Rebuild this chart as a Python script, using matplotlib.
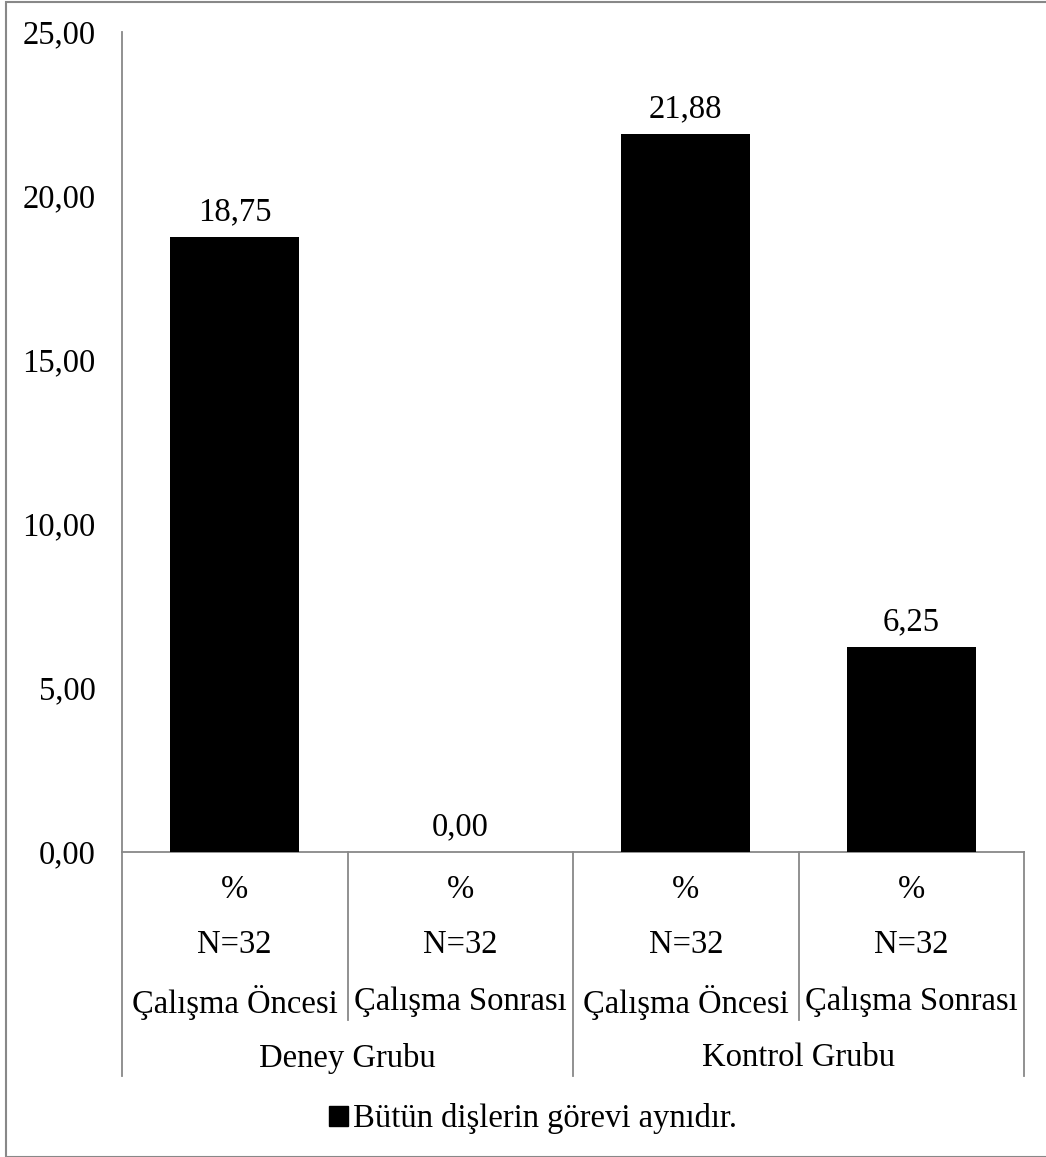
import matplotlib
matplotlib.use("Agg")
import matplotlib.pyplot as plt
from matplotlib.patches import Patch, Rectangle
from matplotlib.lines import Line2D
import matplotlib.transforms as mtransforms

# Data
phases = ["Çalışma Öncesi", "Çalışma Sonrası", "Çalışma Öncesi", "Çalışma Sonrası"]
unit_row = ["%", "%", "%", "%"]
n_row = ["N=32", "N=32", "N=32", "N=32"]
groups = ["Deney Grubu", "Kontrol Grubu"]
values = [18.75, 0.00, 21.88, 6.25]
series_name = "Bütün dişlerin görevi aynıdır."
yticks = [0, 5, 10, 15, 20, 25]

W, H = 1046, 1157
DPI = 100
FS = 23.5
GRAY = "#888888"

plt.rcParams["font.family"] = ["Liberation Serif", "DejaVu Serif"]

fig = plt.figure(figsize=(W / DPI, H / DPI), dpi=DPI)

def fx(px):
    return px / W

def fy(py):
    return 1 - py / H

ax = fig.add_axes([fx(122), fy(852), fx(1024) - fx(122), fy(32) - fy(852)])

x = list(range(len(values)))
ax.bar(x, values, width=0.57, color="black", zorder=3)
ax.set_xlim(-0.5, len(values) - 0.5)
ax.set_ylim(0, 25)

ax.set_yticks(yticks)
ax.set_yticklabels([f"{t:.2f}".replace(".", ",") for t in yticks], fontsize=FS)
ax.tick_params(axis="y", length=0, pad=19)
ax.set_xticks([])

for side in ["top", "right"]:
    ax.spines[side].set_visible(False)
ax.spines["left"].set_color(GRAY)
ax.spines["bottom"].set_color(GRAY)
ax.spines["left"].set_linewidth(1.3)
ax.spines["bottom"].set_linewidth(1.3)

# Value labels above bars
for xi, v in zip(x, values):
    ax.annotate(f"{v:.2f}".replace(".", ","), xy=(xi, v), xytext=(0, 18),
                textcoords="offset points", ha="center", va="center", fontsize=FS)

# Multi-level category axis
trans = mtransforms.blended_transform_factory(ax.transData, fig.transFigure)
for xi, u, n, p in zip(x, unit_row, n_row, phases):
    ax.text(xi, fy(890), u, transform=trans, ha="center", va="center", fontsize=FS)
    ax.text(xi, fy(945), n, transform=trans, ha="center", va="center", fontsize=FS)
    ax.text(xi, fy(1002), p, transform=trans, ha="center", va="center", fontsize=FS)

for gi, g in enumerate(groups):
    ax.text(2 * gi + 0.5, fy(1058), g, transform=trans, ha="center", va="center", fontsize=FS)

# Separators between categories
for b in [-0.5, 0.5, 1.5, 2.5, 3.5]:
    bottom = 1076 if b in (-0.5, 1.5, 3.5) else 1020
    ax.add_line(Line2D([b, b], [fy(852), fy(bottom)], transform=trans,
                       color=GRAY, lw=1.3, clip_on=False))

# Legend
handle = Patch(facecolor="black", edgecolor="black")
fig.legend([handle], [series_name], loc="center", bbox_to_anchor=(fx(533), fy(1119)),
           frameon=False, fontsize=FS, handlelength=0.6, handleheight=0.6,
           handletextpad=0.15, borderpad=0)

# Chart border
fig.patches.append(Rectangle((fx(5.5), fy(1156.5)), 1.2, fy(1.5) - fy(1156.5),
                             transform=fig.transFigure, fill=False,
                             edgecolor=GRAY, lw=1.5))

fig.savefig("out.png", dpi=DPI)
